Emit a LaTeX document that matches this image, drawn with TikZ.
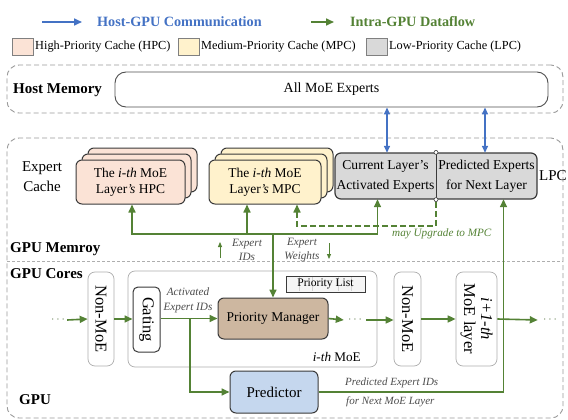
\documentclass[tikz,border=0pt]{standalone}
\usepackage{fontspec}
\setmainfont{Liberation Serif}
\usetikzlibrary{arrows.meta,calc}
\definecolor{hostblue}{HTML}{4472C4}
\definecolor{flowgreen}{HTML}{548235}
\definecolor{hpcfill}{HTML}{FBE3D6}
\definecolor{mpcfill}{HTML}{FFF2CC}
\definecolor{lpcfill}{HTML}{D9D9D9}
\definecolor{pmfill}{HTML}{CDB7A0}
\definecolor{predfill}{HTML}{C5D7EE}
\definecolor{framegray}{HTML}{9A9A9A}
\definecolor{edgegray}{HTML}{3A3A3A}
\tikzset{
  frame/.style={draw=framegray, dashed, dash pattern=on 5pt off 3pt, line width=0.9pt, rounded corners=12pt, inner sep=0},
  softbox/.style={draw=framegray!80, line width=0.7pt, rounded corners=7pt, fill=white, inner sep=0},
  hardbox/.style={draw=edgegray, line width=1pt, rounded corners=6pt, inner sep=0, align=center},
  txt/.style={inner sep=0, align=center},
  small/.style={inner sep=0, align=center, font=\fontsize{11.2}{14.5}\selectfont\itshape},
  head/.style={font=\fontsize{15}{17}\selectfont\bfseries, inner sep=0},
  leghead/.style={font=\fontsize{14.2}{16}\selectfont\bfseries, inner sep=0},
  boxtext/.style={font=\fontsize{13.5}{16}\selectfont},
  sidefont/.style={font=\fontsize{16.5}{17}\selectfont},
  gline/.style={draw=flowgreen, line width=1.6pt},
  garrow/.style={gline, -{Triangle[length=8pt,width=7pt]}},
  thinarrow/.style={draw=flowgreen, line width=0.8pt, -{Triangle[length=5pt,width=4pt]}},
  barrow/.style={draw=hostblue, line width=1.5pt, {Triangle[length=7pt,width=6pt]}-{Triangle[length=7pt,width=6pt]}},
  swatch/.style={draw=gray, line width=0.7pt, minimum width=21pt, minimum height=17pt, inner sep=0},
  sidetext/.style={inner sep=0, rotate=-90, align=center},
  dots/.style={inner sep=0, text=flowgreen!55!gray},
}
\begin{document}
\begin{tikzpicture}[x=1pt, y=-1pt, font=\fontsize{12.3}{14}\selectfont]
\useasboundingbox (0,0) rectangle (568,420);

% ---- legend ----
\coordinate (lbA) at (42,22);
\coordinate (lbB) at (82,22);
\draw[draw=hostblue, line width=1.6pt, -{Triangle[length=8pt,width=7pt]}] (lbA) -- (lbB);
\node[leghead, text=hostblue, anchor=west] (legHost) at (97,22) {Host-GPU Communication};
\coordinate (lgA) at (311,22);
\coordinate (lgB) at (334,22);
\draw[garrow] (lgA) -- (lgB);
\node[leghead, text=flowgreen, anchor=west] (legIntra) at (350,22) {Intra-GPU Dataflow};

\node[swatch, fill=hpcfill, anchor=west] (swH) at (12,46.5) {};
\node[txt, anchor=west] (legH) at (35,46.5) {High-Priority Cache (HPC)};
\node[swatch, fill=mpcfill, anchor=west] (swM) at (178,46.5) {};
\node[txt, anchor=west] (legM) at (201,46.5) {Medium-Priority Cache (MPC)};
\node[swatch, fill=lpcfill, anchor=west] (swL) at (366,46.5) {};
\node[txt, anchor=west] (legL) at (389,46.5) {Low-Priority Cache (LPC)};

% ---- host memory ----
\node[frame, minimum width=556pt, minimum height=48pt] (hostmem) at (285,89) {};
\node[head, anchor=west] (hostlabel) at (13,90) {Host Memory};
\node[hardbox, draw=edgegray!90, line width=0.9pt, rounded corners=11pt, minimum width=433pt, minimum height=35pt, font=\fontsize{14}{16}\selectfont] (allmoe) at (331.5,89.5) {All MoE Experts};

% ---- GPU ----
\node[frame, minimum width=556pt, minimum height=280pt] (gpu) at (285,278) {};
\coordinate (sepL) at (7,261);
\coordinate (sepR) at (563,261);
\draw[draw=framegray!80, line width=0.6pt, dash pattern=on 3pt off 2pt] (sepL) -- (sepR);
\node[head, anchor=west] (memlabel) at (10,249.5) {GPU Memroy};
\node[head, anchor=west] (corelabel) at (10,274) {GPU Cores};
\node[head, anchor=west] (gpulabel) at (19,400) {GPU};

% ---- expert cache ----
\node[txt, font=\fontsize{15}{20}\selectfont] (cachelabel) at (42,177) {Expert\\Cache};

% HPC stack
\node[hardbox, fill=hpcfill, minimum width=109pt, minimum height=44pt] (hpcC) at (142.5,170) {};
\node[hardbox, fill=hpcfill, minimum width=109pt, minimum height=44pt] (hpcB) at (136.5,176) {};
\node[hardbox, fill=hpcfill, minimum width=109pt, minimum height=44pt, boxtext] (hpc) at (130.5,182) {The \textit{i-th} MoE\\Layer\textit{'s} HPC};

% MPC stack
\node[hardbox, fill=mpcfill, minimum width=112pt, minimum height=44pt] (mpcC) at (277,170) {};
\node[hardbox, fill=mpcfill, minimum width=112pt, minimum height=44pt] (mpcB) at (271,176) {};
\node[hardbox, fill=mpcfill, minimum width=112pt, minimum height=44pt, boxtext] (mpc) at (265,182) {The \textit{i-th} MoE\\Layer\textit{'s} MPC};

% LPC: one box split in two halves
\node[hardbox, line width=1.2pt, fill=lpcfill, minimum width=202pt, minimum height=46pt] (lpc) at (436,176) {};
\draw[edgegray, line width=1pt] (lpc.north) -- (lpc.south);
\node[circle, draw=edgegray, fill=white, line width=0.6pt, minimum size=4pt, inner sep=0] (divtop) at (lpc.north) {};
\node[circle, draw=edgegray, fill=white, line width=0.6pt, minimum size=4pt, inner sep=0] (divbot) at (lpc.south) {};
\node[txt, minimum width=101pt, minimum height=46pt, font=\fontsize{13.6}{20}\selectfont] (cur) at (385.5,176) {Current Layer's\\Activated Experts};
\node[txt, minimum width=101pt, minimum height=46pt, font=\fontsize{13.6}{20}\selectfont] (pred) at (486.5,176) {Predicted Experts\\for Next Layer};
\node[txt, anchor=west, font=\fontsize{15}{17}\selectfont] (lpclabel) at (539,176) {LPC};

% host <-> GPU transfers
\draw[barrow] ([xshift=1.5pt]cur.north |- allmoe.south) -- ([xshift=1.5pt]cur.north);
\draw[barrow] ([xshift=-1.5pt]pred.north |- allmoe.south) -- ([xshift=-1.5pt]pred.north);

% ---- GPU cores row ----
\node[softbox, minimum width=249pt, minimum height=96pt] (moe) at (252.5,319) {};
\node[txt, anchor=east, font=\fontsize{13.2}{15}\selectfont] (moelabel) at (361,357) {\textit{i-th} MoE};

\node[dots] (dotsA) at (58,320) {$\cdots$};
\node[softbox, minimum width=26pt, minimum height=94pt] (nonA) at (101,319) {};
\node[sidetext, sidefont] at (nonA.center) {Non-MoE};
\node[hardbox, rounded corners=5pt, fill=white, minimum width=27pt, minimum height=65pt] (gating) at (146.5,319.5) {};
\node[sidetext, sidefont] at (gating.center) {Gating};

\node[hardbox, fill=pmfill, minimum width=110pt, minimum height=41pt, font=\fontsize{13.5}{15}\selectfont] (pm) at (273,318.5) {Priority Manager};
\node[draw=edgegray, line width=0.9pt, fill=gray!8, minimum width=79pt, minimum height=16pt, inner sep=0] (plist) at (325.5,284) {};
\foreach \px in {299,312,338,351} {
  \draw[gray!35, line width=0.4pt] (\px,277) -- (\px,291);
}
\node[txt, font=\fontsize{11.6}{14}\selectfont] (plisttext) at (plist.center) {Priority List};

\node[dots] (dotsB) at (355,320) {$\cdots$};
\node[softbox, minimum width=27pt, minimum height=94pt] (nonB) at (407.5,319) {};
\node[sidetext, sidefont] at (nonB.center) {Non-MoE};
\node[softbox, minimum width=41pt, minimum height=94pt] (nextmoe) at (476.5,319) {};
\node[sidetext, sidefont] at (nextmoe.center) {\textit{i+1-th}\\MoE layer};
\node[dots] (dotsC) at (550,320) {$\cdots$};

\node[hardbox, fill=predfill, minimum width=88pt, minimum height=42pt, font=\fontsize{15}{17}\selectfont] (predictor) at (274,392) {Predictor};

% layer-to-layer flow
\draw[garrow] ([xshift=2pt]dotsA.east) -- (nonA.west);
\draw[garrow] (nonA.east) -- (gating.west |- nonA.east);
\draw[garrow] (gating.east |- pm.west) -- (pm.west);
\draw[garrow] (pm.east) -- ([xshift=-4pt]dotsB.west);
\draw[garrow] ([xshift=4pt]dotsB.east) -- (nonB.west |- dotsB.east);
\draw[garrow] (nonB.east) -- (nextmoe.west);
\draw[garrow] (nextmoe.east) -- ([xshift=-5pt]dotsC.west);
\node[small, text=gray!60!black] (actlabel) at (188,300.5) {Activated\\Expert IDs};

% gating -> predictor
\coordinate (split) at (190,318.5);
\draw[garrow] (split) |- (predictor.west);

% predictor -> next-layer LPC
\draw[garrow] (predictor.east) -| ([xshift=17pt]pred.south);
\node[small, text=gray!60!black, anchor=west, font=\fontsize{11}{13}\selectfont\itshape] (predlabA) at (345,383) {Predicted Expert IDs};
\node[small, text=gray!60!black, anchor=west, font=\fontsize{11}{13}\selectfont\itshape] (predlabB) at (346,402) {for Next MoE Layer};

% priority manager <-> caches
\coordinate (hub) at (273,234);
\draw[garrow] (hub) -- (pm.north);
\draw[garrow] (hub) -| ([xshift=1.5pt]hpc.south);
\draw[garrow] (hub) -| ([xshift=-18pt]mpc.south);
\draw[garrow] (hub) -| ([xshift=-8pt]cur.south);

% LPC may be promoted to MPC
\draw[gline, dash pattern=on 6pt off 3pt, -{Triangle[length=8pt,width=7pt]}] (divbot.south) -- ++(0,24) -| ([xshift=32pt]mpc.south);
\node[small, text=flowgreen, anchor=west] (upglabel) at (392,234) {may Upgrade to MPC};

% direction hints
\coordinate (upA) at (220,258);
\coordinate (upB) at (220,242);
\draw[thinarrow] (upA) -- (upB);
\node[small, text=gray!60!black] (idlabel) at (247,250) {Expert\\IDs};
\node[small, text=gray!60!black] (wlabel) at (302,250) {Expert\\Weights};
\coordinate (dnA) at (329,243);
\coordinate (dnB) at (329,259);
\draw[thinarrow] (dnA) -- (dnB);
\end{tikzpicture}
\end{document}
